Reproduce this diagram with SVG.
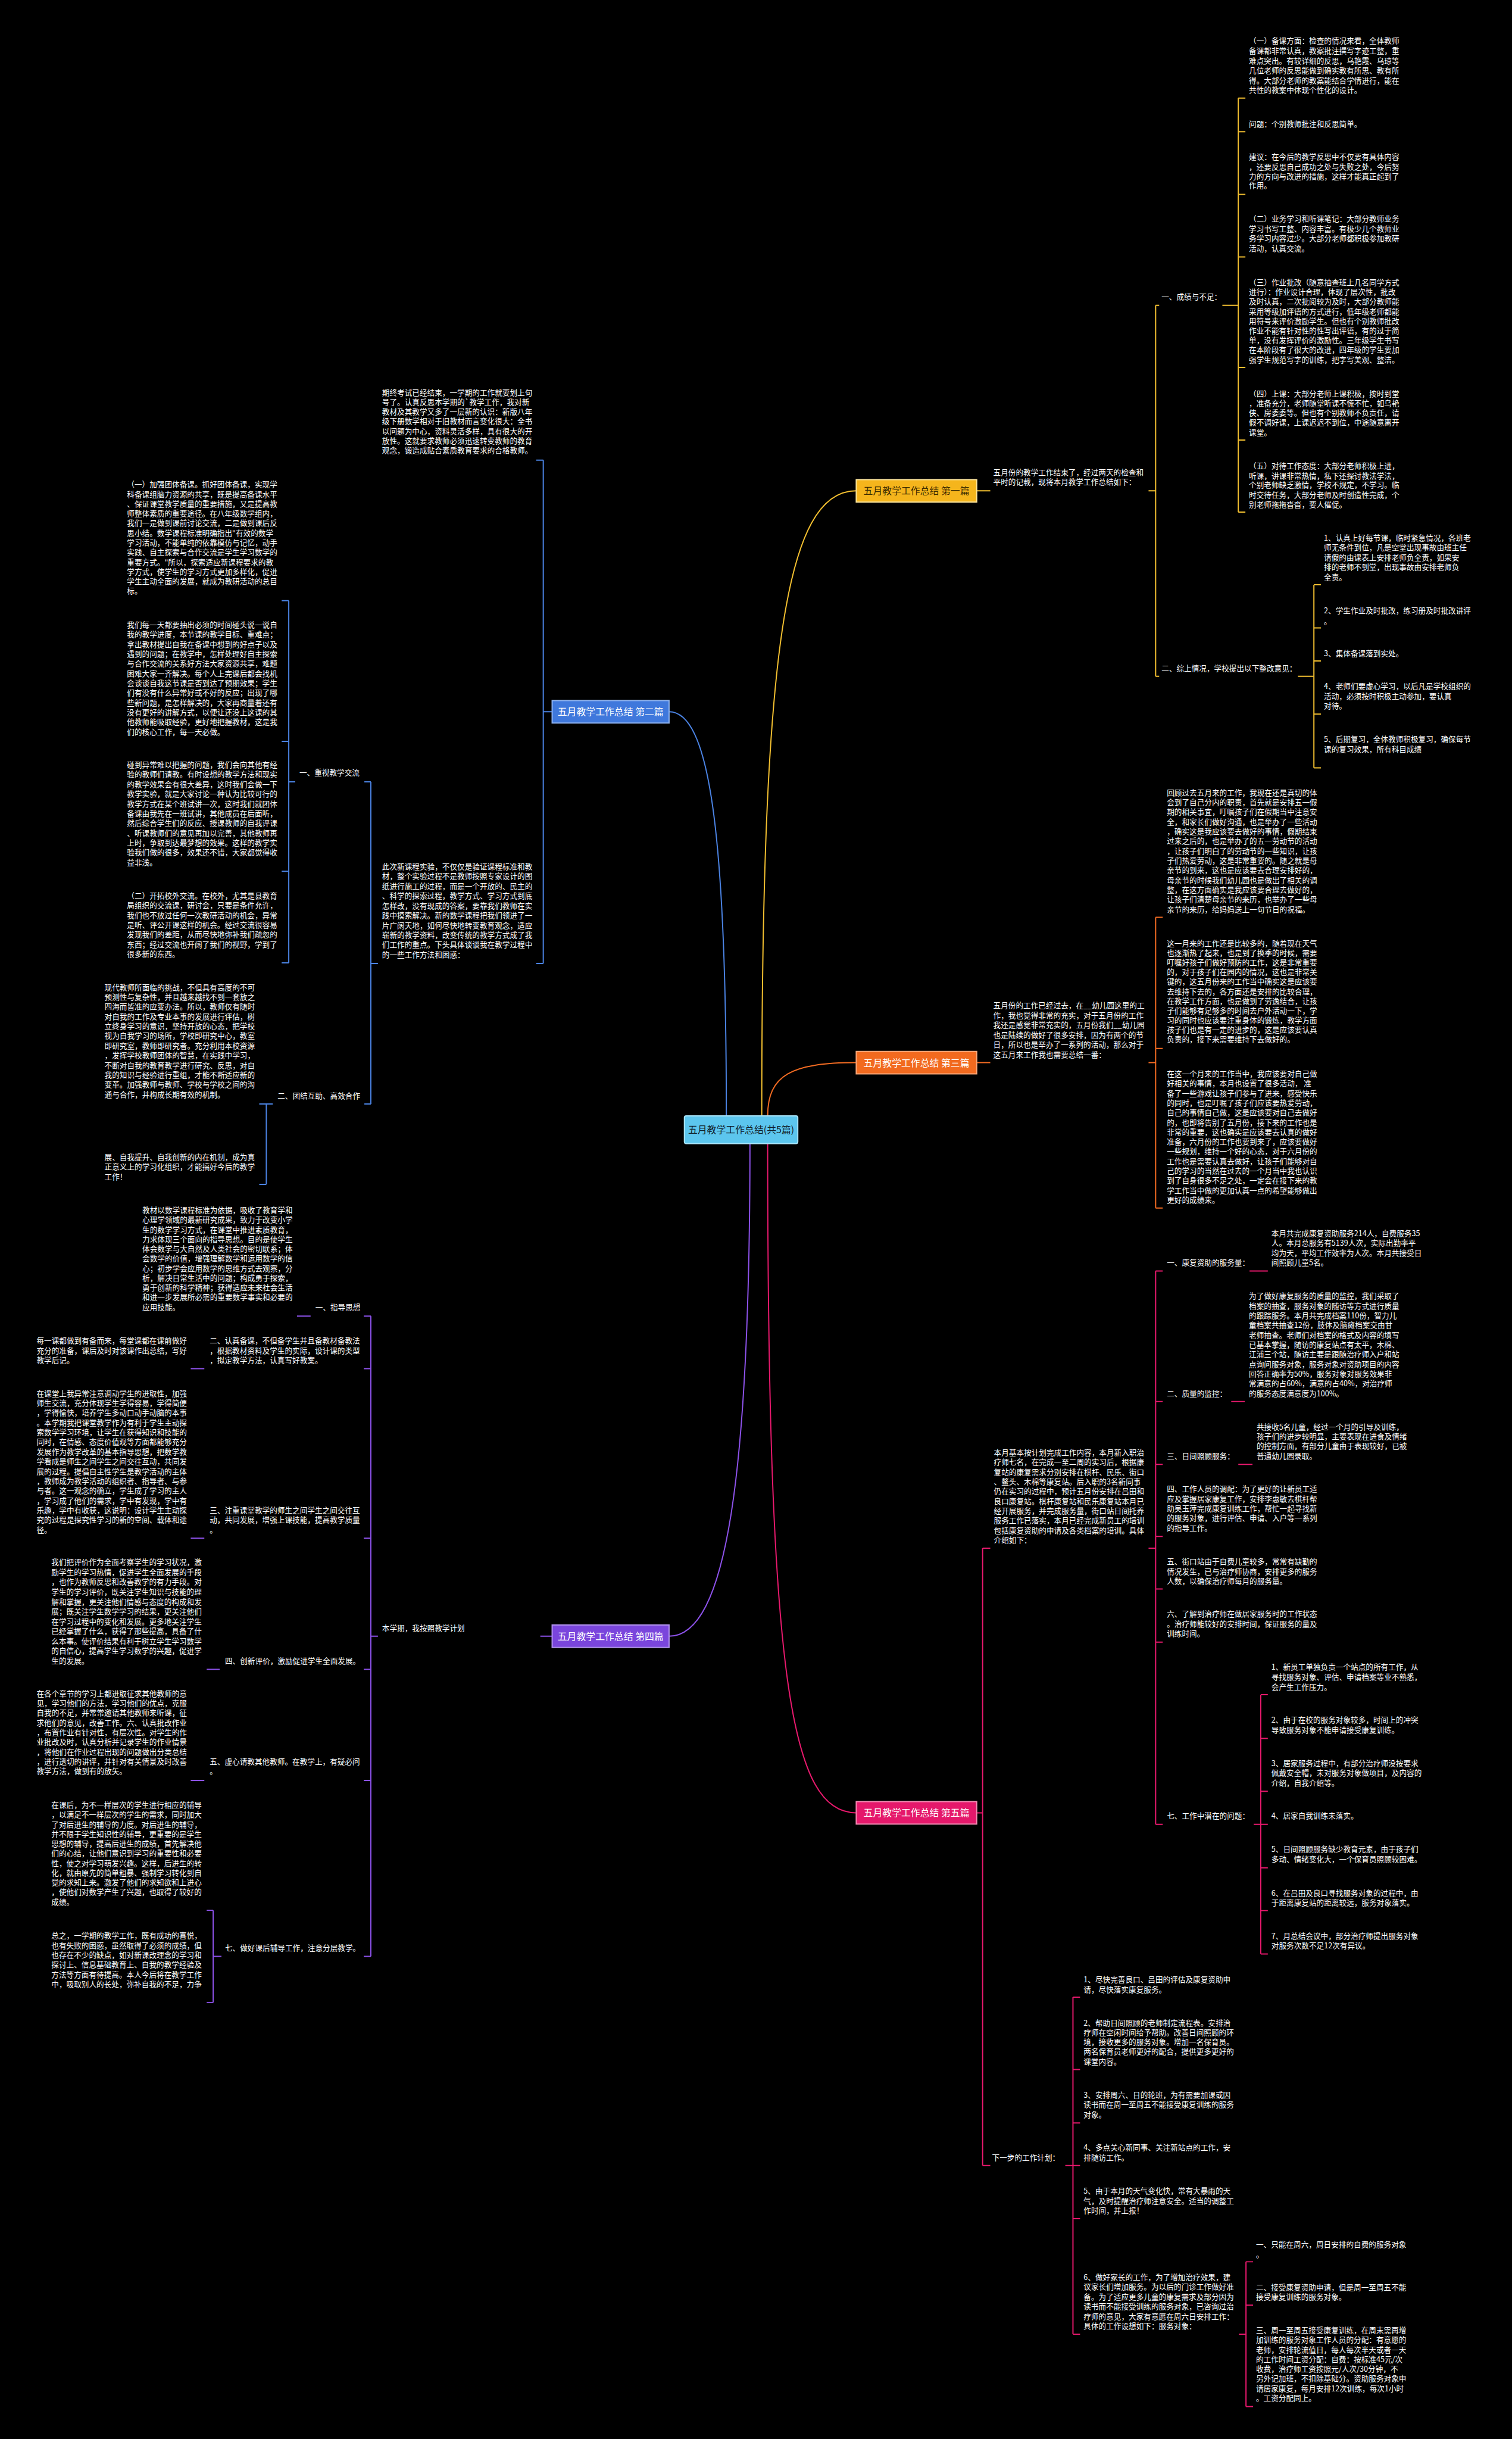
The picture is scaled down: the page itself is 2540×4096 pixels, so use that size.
<svg xmlns="http://www.w3.org/2000/svg" width="2540" height="4096" viewBox="0 0 2540 4096">
<style>
.t{font-family:"Noto Sans CJK SC","Noto Sans",sans-serif;font-size:12.75px;fill:#ffffff}
.bx{font-family:"Noto Sans CJK SC","Noto Sans",sans-serif;font-size:16px;text-anchor:middle}
.c{fill:none;stroke-width:2}
.cy{stroke:#f2bf30}.cb{stroke:#4b83e3}.co{stroke:#f26b22}.cp{stroke:#8d52ea}.ck{stroke:#e8196d}
</style>
<rect x="0" y="0" width="2540" height="4096" fill="#000000"/>
<g transform="scale(0.992)">
<g id="connectors">
<path class="c cy" d="M1290,1889 C1290,1100 1330,831 1450,831"/>
<path class="c co" d="M1300,1889 C1300,1820 1340,1799 1450,1799"/>
<path class="c ck" d="M1300,1936 C1300,2850 1340,3069 1450,3069"/>
<path class="c cb" d="M1230,1889 C1230,1400 1200,1205 1133,1205"/>
<path class="c cp" d="M1270,1936 C1270,2500 1230,2770 1133,2770"/>
<path class="c cy" d="M1654,831H1677M1945,831H1957M1957,517V1145M1957,517H1963M1957,1145H1963"/>
<path class="c cy" d="M2070,517H2097M2097,166V867M2097,166H2109M2097,223H2109M2097,329H2109M2097,435H2109M2097,622H2109M2097,745H2109M2097,867H2109"/>
<path class="c cy" d="M2198,1145H2225M2225,990V1300M2225,990H2237M2225,1063H2237M2225,1119H2237M2225,1209H2237M2225,1300H2237"/>
<path class="c co" d="M1654,1799H1677M1945,1799H1957M1957,1553V2045M1957,1553H1969M1957,1775H1969M1957,2045H1969"/>
<path class="c ck" d="M1654,3069H1664M1664,2621V3666M1664,2621H1677M1664,3666H1677"/>
<path class="c ck" d="M1945,2621H1957M1957,2151.6V3088.5M1957,2151.6H1969M1957,2372.6H1969M1957,2479H1969M1957,2601H1969M1957,2690H1969M1957,2780H1969M1957,3088.5H1969"/>
<path class="c ck" d="M2116,2151.6H2147M2085,2372.6H2108M2097,2479H2121"/>
<path class="c ck" d="M2123,3088.5H2135M2135,2869V3308M2135,2869H2147M2135,2943H2147M2135,3032.5H2147M2135,3088.5H2147M2135,3162H2147M2135,3234.5H2147M2135,3308H2147"/>
<path class="c ck" d="M1804,3666H1817M1817,3381V3951.5M1817,3381H1829M1817,3503.6H1829M1817,3594H1829M1817,3666H1829M1817,3756H1829M1817,3951.5H1829"/>
<path class="c ck" d="M2098,3951.5H2110M2110,3829V4074M2110,3829H2122M2110,3902.5H2122M2110,4074H2122"/>
<path class="c cb" d="M935,1205H920M920,779V1631M908,779H920M908,1631H920"/>
<path class="c cb" d="M640,1631H628M628,1323.6V1869M617,1323.6H628M617,1869H628"/>
<path class="c cb" d="M500,1323.6H489M489,1017V1630M477,1017H489M477,1255H489M477,1475H489M477,1630H489"/>
<path class="c cb" d="M462,1869H451M451,1869V2005M439,1869H451M439,2005H451"/>
<path class="c cp" d="M935,2770H915M640,2770H628M628,2228V3312M616,2228H628M616,2317H628M616,2604H628M616,2826H628M616,3014H628M616,3312H628"/>
<path class="c cp" d="M503,2228H526M323,2317H346M323,2604H346M350,2826H372M323,3014H346"/>
<path class="c cp" d="M361,3234V3390M350,3234H361M350,3390H361M361,3312H375"/>
</g>

<g id="center">
<rect x="1159" y="1889" width="192" height="47" rx="3" fill="#5cc6ee" stroke="#a9e4f8" stroke-width="2"/>
<text class="bx" x="1255" y="1918" fill="#10202a">五月教学工作总结(共5篇)</text>
</g>

<g id="b1">
<rect x="1450" y="812" width="204" height="38" fill="#f5b51c" stroke="#fde49a" stroke-width="2"/>
<text class="bx" x="1552" y="837" fill="#3b2b00">五月教学工作总结 第一篇</text>
</g>
<g id="b1-t">
<text class="t"><tspan x="1682" y="804">五月份的教学工作结束了，经过两天的检查和</tspan><tspan x="1682" y="821">平时的记載，现将本月教学工作总结如下：</tspan></text>
</g>
<g id="b1-1"><text class="t" x="1967" y="507.5">一、成绩与不足：</text></g>
<g id="b1-1-1"><text class="t"><tspan x="2115" y="74">（一）备课方面：检查的情况来看，全体教师</tspan><tspan x="2115" y="91">备课都非常认真，教案批注撰写字迹工整，重</tspan><tspan x="2115" y="107.5">难点突出。有较详细的反思，乌艳霞、乌琼等</tspan><tspan x="2115" y="124">几位老师的反思能做到确实教有所思、教有所</tspan><tspan x="2115" y="141">得。大部分老师的教案能结合学情进行，能在</tspan><tspan x="2115" y="157.5">共性的教案中体现个性化的设计。</tspan></text></g>
<g id="b1-1-2"><text class="t" x="2115" y="214.5">问题：个别教师批注和反思简单。</text></g>
<g id="b1-1-3"><text class="t"><tspan x="2115" y="270.5">建议：在今后的教学反思中不仅要有具体内容</tspan><tspan x="2115" y="287.5">，还要反思自己成功之处与失败之处，今后努</tspan><tspan x="2115" y="303.5">力的方向与改进的措施，这样才能真正起到了</tspan><tspan x="2115" y="318.5">作用。</tspan></text></g>
<g id="b1-1-4"><text class="t"><tspan x="2115" y="375">（二）业务学习和听课笔记：大部分教师业务</tspan><tspan x="2115" y="392">学习书写工整、内容丰富。有极少几个教师业</tspan><tspan x="2115" y="408.5">务学习内容过少。大部分老师都积极参加教研</tspan><tspan x="2115" y="425">活动，认真交流。</tspan></text></g>
<g id="b1-1-5"><text class="t"><tspan x="2115" y="482.5">（三）作业批改（随意抽查班上几名同学方式</tspan><tspan x="2115" y="499">进行）：作业设计合理，体现了层次性，批改</tspan><tspan x="2115" y="515.5">及时认真，二次批阅较为及时，大部分教师能</tspan><tspan x="2115" y="532">采用等级加评语的方式进行，低年级老师都能</tspan><tspan x="2115" y="548">用符号来评价激励学生。但也有个别教师批改</tspan><tspan x="2115" y="564.5">作业不能有针对性的性写出评语，有的过于简</tspan><tspan x="2115" y="581">单，没有发挥评价的激励性。三年级学生书写</tspan><tspan x="2115" y="597">在本阶段有了很大的改进，四年级的学生要加</tspan><tspan x="2115" y="613.5">强学生规范写字的训练，把字写美观、整洁。</tspan></text></g>
<g id="b1-1-6"><text class="t"><tspan x="2115" y="671">（四）上课：大部分老师上课积极，按时到堂</tspan><tspan x="2115" y="687.5">，准备充分，老师随堂听课不慌不忙，如乌艳</tspan><tspan x="2115" y="703.5">侠、房委委等。但也有个别教师不负责任，请</tspan><tspan x="2115" y="720">假不调好课，上课迟迟不到位，中途随意离开</tspan><tspan x="2115" y="736.5">课堂。</tspan></text></g>
<g id="b1-1-7"><text class="t"><tspan x="2115" y="793.5">（五）对待工作态度：大部分老师积极上进，</tspan><tspan x="2115" y="810">听课，讲课非常热情，私下还探讨教法学法，</tspan><tspan x="2115" y="826">个别老师缺乏激情，学校不规定，不学习。临</tspan><tspan x="2115" y="842.5">时交待任务，大部分老师及时创造性完成，个</tspan><tspan x="2115" y="858.5">别老师拖拖沓沓，要人催促。</tspan></text></g>
<g id="b1-2"><text class="t" x="1967" y="1136.5">二、综上情况，学校提出以下整改意见：</text></g>
<g id="b1-2-1"><text class="t"><tspan x="2242" y="915">1、认真上好每节课，临时紧急情况，各班老</tspan><tspan x="2242" y="931.5">师无条件到位，凡是空堂出现事故由班主任</tspan><tspan x="2242" y="948.5">请假的由课表上安排老师负全责，如果安</tspan><tspan x="2242" y="964.5">排的老师不到堂，出现事故由安排老师负</tspan><tspan x="2242" y="981.5">全责。</tspan></text></g>
<g id="b1-2-2"><text class="t"><tspan x="2242" y="1038.5">2、学生作业及时批改，练习册及时批改讲评</tspan><tspan x="2242" y="1056">。</tspan></text></g>
<g id="b1-2-3"><text class="t" x="2242" y="1110.5">3、集体备课落到实处。</text></g>
<g id="b1-2-4"><text class="t"><tspan x="2242" y="1166.5">4、老师们要虚心学习，以后凡是学校组织的</tspan><tspan x="2242" y="1183.5">活动，必须按时积极主动参加，要认真</tspan><tspan x="2242" y="1199.5">对待。</tspan></text></g>
<g id="b1-2-5"><text class="t"><tspan x="2242" y="1256.5">5、后期复习，全体教师积极复习，确保每节</tspan><tspan x="2242" y="1273">课的复习效果，所有科目成绩</tspan></text></g>

<g id="b3">
<rect x="1450" y="1780" width="204" height="38" fill="#f26a1f" stroke="#f9a77a" stroke-width="2"/>
<text class="bx" x="1552" y="1805" fill="#ffffff">五月教学工作总结 第三篇</text>
</g>
<g id="b3-t"><text class="t"><tspan x="1682" y="1707">五月份的工作已经过去，在__幼儿园这里的工</tspan><tspan x="1682" y="1723.6">作，我也觉得非常的充实，对于五月份的工作</tspan><tspan x="1682" y="1740.2">我还是感觉非常充实的，五月份我们__幼儿园</tspan><tspan x="1682" y="1756.8">也是陆续的做好了很多安排，因为有两个的节</tspan><tspan x="1682" y="1773.4">日，所以也是举办了一系列的活动，那么对于</tspan><tspan x="1682" y="1790">这五月来工作我也需要总结一番：</tspan></text></g>
<g id="b3-1"><text class="t"><tspan x="1976" y="1346.5">回顾过去五月来的工作，我现在还是真切的体</tspan><tspan x="1976" y="1363">会到了自己分内的职责，首先就是安排五一假</tspan><tspan x="1976" y="1379.4">期的相关事宜，叮嘱孩子们在假期当中注意安</tspan><tspan x="1976" y="1395.9">全，和家长们做好沟通，也是举办了一些活动</tspan><tspan x="1976" y="1412.3">，确实这是我应该要去做好的事情，假期结束</tspan><tspan x="1976" y="1428.8">过来之后的，也是举办了的五一劳动节的活动</tspan><tspan x="1976" y="1445.2">，让孩子们明白了的劳动节的一些知识，让孩</tspan><tspan x="1976" y="1461.7">子们热爱劳动，这是非常重要的。随之就是母</tspan><tspan x="1976" y="1478.1">亲节的到来，这也是应该要去合理安排好的，</tspan><tspan x="1976" y="1494.6">母亲节的时候我们幼儿园也是做出了相关的调</tspan><tspan x="1976" y="1511">整，在这方面确实是我应该要合理去做好的，</tspan><tspan x="1976" y="1527.5">让孩子们清楚母亲节的来历，也举办了一些母</tspan><tspan x="1976" y="1543.9">亲节的来历，给妈妈送上一句节日的祝福。</tspan></text></g>
<g id="b3-2"><text class="t"><tspan x="1976" y="1601.5">这一月来的工作还是比较多的，随着现在天气</tspan><tspan x="1976" y="1617.8">也逐渐热了起来，也是到了换季的时候，需要</tspan><tspan x="1976" y="1634.1">叮嘱好孩子们做好预防的工作，这是非常重要</tspan><tspan x="1976" y="1650.4">的，对于孩子们在园内的情况，这也是非常关</tspan><tspan x="1976" y="1666.7">键的，这五月份来的工作当中确实这是应该要</tspan><tspan x="1976" y="1683">去维持下去的，各方面还是安排的比较合理，</tspan><tspan x="1976" y="1699.3">在教学工作方面，也是做到了劳逸结合，让孩</tspan><tspan x="1976" y="1715.6">子们能够有足够多的时间去户外活动一下，学</tspan><tspan x="1976" y="1731.9">习的同时也应该要注重身体的锻炼，教学方面</tspan><tspan x="1976" y="1748.2">孩子们也是有一定的进步的，这是应该要认真</tspan><tspan x="1976" y="1764.5">负责的，接下来需要维持下去做好的。</tspan></text></g>
<g id="b3-3"><text class="t"><tspan x="1976" y="1822.5">在这一个月来的工作当中，我应该要对自己做</tspan><tspan x="1976" y="1839">好相关的事情，本月也设置了很多活动， 准</tspan><tspan x="1976" y="1855.4">备了一些游戏让孩子们参与了进来，感受快乐</tspan><tspan x="1976" y="1871.9">的同时，也是叮嘱了孩子们应该要热爱劳动，</tspan><tspan x="1976" y="1888.3">自己的事情自己做，这是应该要对自己去做好</tspan><tspan x="1976" y="1904.8">的，也即将告别了五月份，接下来的工作也是</tspan><tspan x="1976" y="1921.2">非常的重要，这也确实是应该要去认真的做好</tspan><tspan x="1976" y="1937.7">准备，六月份的工作也要到来了，应该要做好</tspan><tspan x="1976" y="1954.1">一些规划，维持一个好的心态，对于六月份的</tspan><tspan x="1976" y="1970.6">工作也是需要认真去做好，让孩子们能够对自</tspan><tspan x="1976" y="1987">己的学习的当然在过去的一个月当中我也认识</tspan><tspan x="1976" y="2003.5">到了自身很多不足之处，一定会在接下来的教</tspan><tspan x="1976" y="2019.9">学工作当中做的更加认真一点的希望能够做出</tspan><tspan x="1976" y="2036.4">更好的成绩来。</tspan></text></g>

<g id="b5">
<rect x="1450" y="3050" width="204" height="38" fill="#e5186b" stroke="#f58ab3" stroke-width="2"/>
<text class="bx" x="1552" y="3075" fill="#ffffff">五月教学工作总结 第五篇</text>
</g>
<g id="b5-t"><text class="t"><tspan x="1683" y="2463.5">本月基本按计划完成工作内容，本月新入职治</tspan><tspan x="1683" y="2480">疗师七名，在完成一至二周的实习后，根据康</tspan><tspan x="1683" y="2496.5">复站的康复需求分别安排在棋杆、民乐、街口</tspan><tspan x="1683" y="2513">、鳌头、木棉等康复站。后入职的3名新同事</tspan><tspan x="1683" y="2529.5">仍在实习的过程中，预计五月份安排在吕田和</tspan><tspan x="1683" y="2546">良口康复站。棋杆康复站和民乐康复站本月已</tspan><tspan x="1683" y="2562.5">经开展服务，并完成服务量，街口站日间托养</tspan><tspan x="1683" y="2579">服务工作已落实，本月已经完成新员工的培训</tspan><tspan x="1683" y="2595.5">包括康复资助的申请及各类档案的培训。具体</tspan><tspan x="1683" y="2612">介绍如下：</tspan></text></g>
<g id="b5-1"><text class="t" x="1976" y="2142.5">一、康复资助的服务量：</text></g>
<g id="b5-1-1"><text class="t"><tspan x="2153" y="2092.5">本月共完成康复资助服务214人，自费服务35</tspan><tspan x="2153" y="2109.1">人。本月总服务有5139人次，实际出勤率平</tspan><tspan x="2153" y="2125.7">均为天，平均工作效率为人次。本月共接受日</tspan><tspan x="2153" y="2142.3">间照顾儿童5名。</tspan></text></g>
<g id="b5-2"><text class="t" x="1976" y="2363.5">二、质量的监控：</text></g>
<g id="b5-2-1"><text class="t"><tspan x="2115" y="2199">为了做好康复服务的质量的监控，我们采取了</tspan><tspan x="2115" y="2215.5">档案的抽查，服务对象的随访等方式进行质量</tspan><tspan x="2115" y="2231.9">的跟踪服务。本月共完成档案110份，智力儿</tspan><tspan x="2115" y="2248.4">童档案共抽查12份，肢体及脑瘫档案交由甘</tspan><tspan x="2115" y="2264.8">老师抽查。老师们对档案的格式及内容的填写</tspan><tspan x="2115" y="2281.3">已基本掌握，随访的康复站点有太平，木棉、</tspan><tspan x="2115" y="2297.7">江浦三个站，随访主要是跟随治疗师入户和站</tspan><tspan x="2115" y="2314.2">点询问服务对象，服务对象对资助项目的内容</tspan><tspan x="2115" y="2330.6">回答正确率为50%，服务对象对服务效果非</tspan><tspan x="2115" y="2347.1">常满意的占60%，满意的占40%，对治疗师</tspan><tspan x="2115" y="2363.5">的服务态度满意度为100%。</tspan></text></g>
<g id="b5-3"><text class="t" x="1976" y="2469.5">三、日间照顾服务：</text></g>
<g id="b5-3-1"><text class="t"><tspan x="2128" y="2420">共接收5名儿童，经过一个月的引导及训练，</tspan><tspan x="2128" y="2436.5">孩子们的进步较明显，主要表现在进食及情绪</tspan><tspan x="2128" y="2453">的控制方面，有部分儿童由于表现较好，已被</tspan><tspan x="2128" y="2469.5">普通幼儿园录取。</tspan></text></g>
<g id="b5-4"><text class="t"><tspan x="1976" y="2525.5">四、工作人员的调配：为了更好的让新员工适</tspan><tspan x="1976" y="2542">应及掌握居家康复工作，安排李惠敏去棋杆帮</tspan><tspan x="1976" y="2558.5">助吴玉萍完成康复训练工作，帮忙一起寻找新</tspan><tspan x="1976" y="2575">的服务对象，进行评估、申请、入户等一系列</tspan><tspan x="1976" y="2591.5">的指导工作。</tspan></text></g>
<g id="b5-5"><text class="t"><tspan x="1976" y="2648.5">五、街口站由于自费儿童较多，常常有缺勤的</tspan><tspan x="1976" y="2665">情况发生，已与治疗师协商，安排更多的服务</tspan><tspan x="1976" y="2681.5">人数，以确保治疗师每月的服务量。</tspan></text></g>
<g id="b5-6"><text class="t"><tspan x="1976" y="2737">六、了解到治疗师在做居家服务时的工作状态</tspan><tspan x="1976" y="2754">。治疗师能较好的安排时间，保证服务的量及</tspan><tspan x="1976" y="2770.5">训练时间。</tspan></text></g>
<g id="b5-7"><text class="t" x="1976" y="3079">七、工作中潜在的问题：</text></g>
<g id="b5-7-1"><text class="t"><tspan x="2153" y="2826.5">1、新员工单独负责一个站点的所有工作，从</tspan><tspan x="2153" y="2843.5">寻找服务对象、评估、申请档案等业不熟悉，</tspan><tspan x="2153" y="2860.5">会产生工作压力。</tspan></text></g>
<g id="b5-7-2"><text class="t"><tspan x="2153" y="2916.5">2、由于在校的服务对象较多，时间上的冲突</tspan><tspan x="2153" y="2933.5">导致服务对象不能申请接受康复训练。</tspan></text></g>
<g id="b5-7-3"><text class="t"><tspan x="2153" y="2990">3、居家服务过程中，有部分治疗师没按要求</tspan><tspan x="2153" y="3006.5">佩戴安全帽，未对服务对象做项目，及内容的</tspan><tspan x="2153" y="3023">介绍，自我介绍等。</tspan></text></g>
<g id="b5-7-4"><text class="t" x="2153" y="3079">4、居家自我训练未落实。</text></g>
<g id="b5-7-5"><text class="t"><tspan x="2153" y="3135.5">5、日间照顾服务缺少教育元素，由于孩子们</tspan><tspan x="2153" y="3152">多动、情绪变化大，一个保育员照顾较困难。</tspan></text></g>
<g id="b5-7-6"><text class="t"><tspan x="2153" y="3209.5">6、在吕田及良口寻找服务对象的过程中，由</tspan><tspan x="2153" y="3226">于距离康复站的距离较远，服务对象落实。</tspan></text></g>
<g id="b5-7-7"><text class="t"><tspan x="2153" y="3282">7、月总结会议中，部分治疗师提出服务对象</tspan><tspan x="2153" y="3298.5">对服务次数不足12次有异议。</tspan></text></g>
<g id="b5-8"><text class="t" x="1680" y="3657">下一步的工作计划：</text></g>
<g id="b5-8-1"><text class="t"><tspan x="1835" y="3356">1、尽快完善良口、吕田的评估及康复资助申</tspan><tspan x="1835" y="3373">请，尽快落实康复服务。</tspan></text></g>
<g id="b5-8-2"><text class="t"><tspan x="1835" y="3429">2、帮助日间照顾的老师制定流程表。安排治</tspan><tspan x="1835" y="3445.5">疗师在空闲时间给予帮助。改善日间照顾的环</tspan><tspan x="1835" y="3462">境，接收更多的服务对象。增加一名保育员。</tspan><tspan x="1835" y="3478">两名保育员老师更好的配合，提供更多更好的</tspan><tspan x="1835" y="3494.5">课堂内容。</tspan></text></g>
<g id="b5-8-3"><text class="t"><tspan x="1835" y="3551.5">3、安排周六、日的轮班，为有需要加课或因</tspan><tspan x="1835" y="3567.5">读书而在周一至周五不能接受康复训练的服务</tspan><tspan x="1835" y="3584.5">对象。</tspan></text></g>
<g id="b5-8-4"><text class="t"><tspan x="1835" y="3640.5">4、多点关心新同事、关注新站点的工作，安</tspan><tspan x="1835" y="3657">排随访工作。</tspan></text></g>
<g id="b5-8-5"><text class="t"><tspan x="1835" y="3713.5">5、由于本月的天气变化快，常有大暴雨的天</tspan><tspan x="1835" y="3731">气，及时提醒治疗师注意安全。适当的调整工</tspan><tspan x="1835" y="3746.5">作时间，并上报！</tspan></text></g>
<g id="b5-8-6"><text class="t"><tspan x="1835" y="3860">6、做好家长的工作，为了增加治疗效果，建</tspan><tspan x="1835" y="3876.5">议家长们增加服务。为以后的门诊工作做好准</tspan><tspan x="1835" y="3893.5">备。为了适应更多儿童的康复需求及部分因为</tspan><tspan x="1835" y="3909.5">读书而不能接受训练的服务对象，已咨询过治</tspan><tspan x="1835" y="3926.5">疗师的意见，大家有意愿在周六日安排工作：</tspan><tspan x="1835" y="3942.5">具体的工作设想如下：服务对象：</tspan></text></g>
<g id="b5-8-6-1"><text class="t"><tspan x="2127" y="3804">一、只能在周六，周日安排的自费的服务对象</tspan><tspan x="2127" y="3821.5">。</tspan></text></g>
<g id="b5-8-6-2"><text class="t"><tspan x="2127" y="3877">二、接受康复资助申请，但是周一至周五不能</tspan><tspan x="2127" y="3893.5">接受康复训练的服务对象。</tspan></text></g>
<g id="b5-8-6-3"><text class="t"><tspan x="2127" y="3949.5">三、周一至周五接受康复训练，在周末需再增</tspan><tspan x="2127" y="3965.5">加训练的服务对象工作人员的分配：有意愿的</tspan><tspan x="2127" y="3982.5">老师，安排轮流值日，每人每次半天或者一天</tspan><tspan x="2127" y="3998.5">的工作时间工资分配：自费：按标准45元/次</tspan><tspan x="2127" y="4015.5">收费，治疗师工资按照元/人次/30分钟，不</tspan><tspan x="2127" y="4031.5">另外记加班，不扣除基础分。资助服务对象申</tspan><tspan x="2127" y="4048.5">请居家康复，每月安排12次训练，每次1小时</tspan><tspan x="2127" y="4065">。工资分配同上。</tspan></text></g>

<g id="b2">
<rect x="935" y="1186" width="198" height="38" fill="#3f78dc" stroke="#8fb4f2" stroke-width="2"/>
<text class="bx" x="1034" y="1211" fill="#ffffff">五月教学工作总结 第二篇</text>
</g>
<g id="b2-t1"><text class="t"><tspan x="647" y="669">期终考试已经结束，一学期的工作就要划上句</tspan><tspan x="647" y="685.4">号了。认真反思本学期的`教学工作，我对新</tspan><tspan x="647" y="701.8">教材及其教学又多了一层新的认识：新版八年</tspan><tspan x="647" y="718.2">级下册数学相对于旧教材而言变化很大：全书</tspan><tspan x="647" y="734.6">以问题为中心，资料灵活多样，具有很大的开</tspan><tspan x="647" y="751">放性。这就要求教师必须迅速转变教师的教育</tspan><tspan x="647" y="767.4">观念，锻造成贴合素质教育要求的合格教师。</tspan></text></g>
<g id="b2-t2"><text class="t"><tspan x="647" y="1471.5">此次新课程实验，不仅仅是验证课程标准和教</tspan><tspan x="647" y="1488.1">材，整个实验过程不是教师按照专家设计的图</tspan><tspan x="647" y="1504.7">纸进行施工的过程，而是一个开放的、民主的</tspan><tspan x="647" y="1521.3">、科学的探索过程，教学方式、学习方式到底</tspan><tspan x="647" y="1537.9">怎样改，没有现成的答案，要靠我们教师在实</tspan><tspan x="647" y="1554.5">践中摸索解决。新的数学课程把我们领进了一</tspan><tspan x="647" y="1571.1">片广阔天地，如何尽快地转变教育观念，适应</tspan><tspan x="647" y="1587.7">崭新的教学资料，改变传统的教学方式成了我</tspan><tspan x="647" y="1604.3">们工作的重点。下头具体谈谈我在教学过程中</tspan><tspan x="647" y="1620.9">的一些工作方法和困惑：</tspan></text></g>
<g id="b2-1"><text class="t" x="507" y="1313">一、重视教学交流</text></g>
<g id="b2-1-1"><text class="t"><tspan x="215" y="825">（一）加强团体备课。抓好团体备课，实现学</tspan><tspan x="215" y="841.4">科备课组脑力资源的共享，既是提高备课水平</tspan><tspan x="215" y="857.8">、保证课堂教学质量的重要措施，又是提高教</tspan><tspan x="215" y="874.2">师整体素质的重要途径。在八年级数学组内，</tspan><tspan x="215" y="890.6">我们一是做到课前讨论交流，二是做到课后反</tspan><tspan x="215" y="907">思小结。数学课程标准明确指出"有效的数学</tspan><tspan x="215" y="923.4">学习活动，不能单纯的依靠模仿与记忆，动手</tspan><tspan x="215" y="939.8">实践、自主探索与合作交流是学生学习数学的</tspan><tspan x="215" y="956.2">重要方式。"所以，探索适应新课程要求的教</tspan><tspan x="215" y="972.6">学方式，使学生的学习方式更加多样化，促进</tspan><tspan x="215" y="989">学生主动全面的发展，就成为教研活动的总目</tspan><tspan x="215" y="1005.4">标。</tspan></text></g>
<g id="b2-1-2"><text class="t"><tspan x="215" y="1062.5">我们每一天都要抽出必须的时间碰头说一说自</tspan><tspan x="215" y="1079">我的教学进度，本节课的教学目标、重难点；</tspan><tspan x="215" y="1095.4">拿出教材提出自我在备课中想到的好点子以及</tspan><tspan x="215" y="1111.9">遇到的问题；在教学中，怎样处理好自主探索</tspan><tspan x="215" y="1128.3">与合作交流的关系好方法大家资源共享，难题</tspan><tspan x="215" y="1144.8">困难大家一齐解决。每个人上完课后都会找机</tspan><tspan x="215" y="1161.2">会谈谈自我这节课是否到达了预期效果；学生</tspan><tspan x="215" y="1177.7">们有没有什么异常好或不好的反应；出现了哪</tspan><tspan x="215" y="1194.1">些新问题，是怎样解决的，大家再商量着还有</tspan><tspan x="215" y="1210.6">没有更好的讲解方式，以便让还没上这课的其</tspan><tspan x="215" y="1227">他教师能吸取经验，更好地把握教材，这是我</tspan><tspan x="215" y="1243.5">们的核心工作，每一天必做。</tspan></text></g>
<g id="b2-1-3"><text class="t"><tspan x="215" y="1299.5">碰到异常难以把握的问题，我们会向其他有经</tspan><tspan x="215" y="1316">验的教师们请教。有时设想的教学方法和现实</tspan><tspan x="215" y="1332.5">的教学效果会有很大差异，这时我们会做一下</tspan><tspan x="215" y="1349">教学实验，就是大家讨论一种认为比较可行的</tspan><tspan x="215" y="1365.5">教学方式在某个班试讲一次，这时我们就团体</tspan><tspan x="215" y="1382">备课由我先在一班试讲，其他成员在后面听，</tspan><tspan x="215" y="1398.5">然后综合学生们的反应、授课教师的自我评课</tspan><tspan x="215" y="1415">、听课教师们的意见再加以完善，其他教师再</tspan><tspan x="215" y="1431.5">上时，争取到达最梦想的效果。这样的教学实</tspan><tspan x="215" y="1448">验我们做的很多，效果还不错，大家都觉得收</tspan><tspan x="215" y="1464.5">益非浅。</tspan></text></g>
<g id="b2-1-4"><text class="t"><tspan x="215" y="1521">（二）开拓校外交流。在校外，尤其是县教育</tspan><tspan x="215" y="1537.5">局组织的交流课，研讨会，只要是条件允许，</tspan><tspan x="215" y="1554">我们也不放过任何一次教研活动的机会，异常</tspan><tspan x="215" y="1570.5">是听、评公开课这样的机会。经过交流很容易</tspan><tspan x="215" y="1587">发现我们的差距，从而尽快地弥补我们疏忽的</tspan><tspan x="215" y="1603.5">东西；经过交流也开阔了我们的视野，学到了</tspan><tspan x="215" y="1620">很多新的东西。</tspan></text></g>
<g id="b2-2"><text class="t" x="470" y="1860">二、团结互助、高效合作</text></g>
<g id="b2-2-1"><text class="t"><tspan x="177" y="1676">现代教师所面临的挑战，不但具有高度的不可</tspan><tspan x="177" y="1692.5">预测性与复杂性，并且越来越找不到一套放之</tspan><tspan x="177" y="1709">四海而皆准的应变办法。所以，教师仅有随时</tspan><tspan x="177" y="1725.5">对自我的工作及专业本事的发展进行评估，树</tspan><tspan x="177" y="1742">立终身学习的意识，坚持开放的心态，把学校</tspan><tspan x="177" y="1758.5">视为自我学习的场所，学校即研究中心，教室</tspan><tspan x="177" y="1775">即研究室，教师即研究者。充分利用本校资源</tspan><tspan x="177" y="1791.5">，发挥学校教师团体的智慧，在实践中学习，</tspan><tspan x="177" y="1808">不断对自我的教育教学进行研究、反思，对自</tspan><tspan x="177" y="1824.5">我的知识与经验进行重组，才能不断适应新的</tspan><tspan x="177" y="1841">变革。加强教师与教师、学校与学校之间的沟</tspan><tspan x="177" y="1857.5">通与合作，并构成长期有效的机制。</tspan></text></g>
<g id="b2-2-2"><text class="t"><tspan x="177" y="1963.5">展、自我提升、自我创新的内在机制，成为真</tspan><tspan x="177" y="1980">正意义上的学习化组织，才能搞好今后的教学</tspan><tspan x="177" y="1996.5">工作！</tspan></text></g>

<g id="b4">
<rect x="935" y="2751" width="198" height="38" fill="#7a45dc" stroke="#b394f0" stroke-width="2"/>
<text class="bx" x="1034" y="2776" fill="#ffffff">五月教学工作总结 第四篇</text>
</g>
<g id="b4-t"><text class="t"><tspan x="647" y="2761">本学期，我按照教学计划</tspan></text></g>
<g id="b4-1"><text class="t" x="534" y="2217.5">一、指导思想</text></g>
<g id="b4-1-1"><text class="t"><tspan x="241" y="2053.5">教材以数学课程标准为依据，吸收了教育学和</tspan><tspan x="241" y="2069.9">心理学领域的最新研究成果，致力于改变小学</tspan><tspan x="241" y="2086.3">生的数学学习方式，在课堂中推进素质教育，</tspan><tspan x="241" y="2102.7">力求体现三个面向的指导思想。目的是使学生</tspan><tspan x="241" y="2119.1">体会数学与大自然及人类社会的密切联系；体</tspan><tspan x="241" y="2135.5">会数学的价值，增强理解数学和运用数学的信</tspan><tspan x="241" y="2151.9">心；初步学会应用数学的思维方式去观察，分</tspan><tspan x="241" y="2168.3">析，解决日常生活中的问题；构成勇于探索，</tspan><tspan x="241" y="2184.7">勇于创新的科学精神；获得适应未来社会生活</tspan><tspan x="241" y="2201.1">和进一步发展所必需的重要数学事实和必要的</tspan><tspan x="241" y="2217.5">应用技能。</tspan></text></g>
<g id="b4-2"><text class="t"><tspan x="355" y="2274.5">二、认真备课，不但备学生并且备教材备教法</tspan><tspan x="355" y="2291">，根据教材资料及学生的实际，设计课的类型</tspan><tspan x="355" y="2307.5">，拟定教学方法，认真写好教案。</tspan></text></g>
<g id="b4-2-1"><text class="t"><tspan x="62" y="2274.5">每一课都做到有备而来，每堂课都在课前做好</tspan><tspan x="62" y="2291">充分的准备，课后及时对该课作出总结，写好</tspan><tspan x="62" y="2307.5">教学后记。</tspan></text></g>
<g id="b4-3"><text class="t"><tspan x="355" y="2561.5">三、注重课堂教学的师生之间学生之间交往互</tspan><tspan x="355" y="2578">动，共同发展，增强上课技能，提高教学质量</tspan><tspan x="355" y="2594.5">。</tspan></text></g>
<g id="b4-3-1"><text class="t"><tspan x="62" y="2363.5">在课堂上我异常注意调动学生的进取性，加强</tspan><tspan x="62" y="2380">师生交流，充分体现学生学得容易，学得简便</tspan><tspan x="62" y="2396.5">，学得愉快，培养学生多动口动手动脑的本事</tspan><tspan x="62" y="2413">。本学期我把课堂教学作为有利于学生主动探</tspan><tspan x="62" y="2429.5">索数学学习环境，让学生在获得知识和技能的</tspan><tspan x="62" y="2446">同时，在情感、态度价值观等方面都能够充分</tspan><tspan x="62" y="2462.5">发展作为教学改革的基本指导思想，把数学教</tspan><tspan x="62" y="2479">学看成是师生之间学生之间交往互动，共同发</tspan><tspan x="62" y="2495.5">展的过程。提倡自主性学生是教学活动的主体</tspan><tspan x="62" y="2512">，教师成为教学活动的组织者、指导者、与参</tspan><tspan x="62" y="2528.5">与者。这一观念的确立，学生成了学习的主人</tspan><tspan x="62" y="2545">，学习成了他们的需求，学中有发现，学中有</tspan><tspan x="62" y="2561.5">乐趣，学中有收获，这说明：设计学生主动探</tspan><tspan x="62" y="2578">究的过程是探究性学习的新的空间、载体和途</tspan><tspan x="62" y="2594.5">径。</tspan></text></g>
<g id="b4-4"><text class="t" x="381" y="2816.5">四、创新评价，激励促进学生全面发展。</text></g>
<g id="b4-4-1"><text class="t"><tspan x="87" y="2649.5">我们把评价作为全面考察学生的学习状况，激</tspan><tspan x="87" y="2666.2">励学生的学习热情，促进学生全面发展的手段</tspan><tspan x="87" y="2682.9">，也作为教师反思和改善教学的有力手段。对</tspan><tspan x="87" y="2699.6">学生的学习评价，既关注学生知识与技能的理</tspan><tspan x="87" y="2716.3">解和掌握，更关注他们情感与态度的构成和发</tspan><tspan x="87" y="2733">展；既关注学生数学学习的结果，更关注他们</tspan><tspan x="87" y="2749.7">在学习过程中的变化和发展。更多地关注学生</tspan><tspan x="87" y="2766.4">已经掌握了什么，获得了那些提高，具备了什</tspan><tspan x="87" y="2783.1">么本事。使评价结果有利于树立学生学习数学</tspan><tspan x="87" y="2799.8">的自信心，提高学生学习数学的兴趣，促进学</tspan><tspan x="87" y="2816.5">生的发展。</tspan></text></g>
<g id="b4-5"><text class="t"><tspan x="355" y="2987">五、虚心请教其他教师。在教学上，有疑必问</tspan><tspan x="355" y="3003.5">。</tspan></text></g>
<g id="b4-5-1"><text class="t"><tspan x="62" y="2871.5">在各个章节的学习上都进取征求其他教师的意</tspan><tspan x="62" y="2888">见，学习他们的方法，学习他们的优点，克服</tspan><tspan x="62" y="2904.5">自我的不足，并常常邀请其他教师来听课，征</tspan><tspan x="62" y="2921">求他们的意见，改善工作。六、认真批改作业</tspan><tspan x="62" y="2937.5">，布置作业有针对性，有层次性。对学生的作</tspan><tspan x="62" y="2954">业批改及时，认真分析并记录学生的作业情景</tspan><tspan x="62" y="2970.5">，将他们在作业过程出现的问题做出分类总结</tspan><tspan x="62" y="2987">，进行透切的讲评，并针对有关情景及时改善</tspan><tspan x="62" y="3003.5">教学方法，做到有的放矢。</tspan></text></g>
<g id="b4-7"><text class="t" x="381" y="3302.5">七、做好课后辅导工作，注意分层教学。</text></g>
<g id="b4-7-1"><text class="t"><tspan x="87" y="3060.5">在课后，为不一样层次的学生进行相应的辅导</tspan><tspan x="87" y="3076.9">，以满足不一样层次的学生的需求，同时加大</tspan><tspan x="87" y="3093.3">了对后进生的辅导的力度。对后进生的辅导，</tspan><tspan x="87" y="3109.7">并不限于学生知识性的辅导，更重要的是学生</tspan><tspan x="87" y="3126.1">思想的辅导，提高后进生的成绩，首先解决他</tspan><tspan x="87" y="3142.5">们的心结，让他们意识到学习的重要性和必要</tspan><tspan x="87" y="3158.9">性，使之对学习萌发兴趣。这样，后进生的转</tspan><tspan x="87" y="3175.3">化，就由原先的简单粗暴、强制学习转化到自</tspan><tspan x="87" y="3191.7">觉的求知上来。激发了他们的求知欲和上进心</tspan><tspan x="87" y="3208.1">，使他们对数学产生了兴趣，也取得了较好的</tspan><tspan x="87" y="3224.5">成绩。</tspan></text></g>
<g id="b4-7-2"><text class="t"><tspan x="87" y="3281.5">总之，一学期的教学工作，既有成功的喜悦，</tspan><tspan x="87" y="3298">也有失败的困惑，虽然取得了必须的成绩，但</tspan><tspan x="87" y="3314.5">也存在不少的缺点，如对新课改理念的学习和</tspan><tspan x="87" y="3331">探讨上、信息基础教育上、自我的教学经验及</tspan><tspan x="87" y="3347.5">方法等方面有待提高。本人今后将在教学工作</tspan><tspan x="87" y="3364">中，吸取别人的长处，弥补自我的不足，力争</tspan></text></g>
</g>
</svg>
